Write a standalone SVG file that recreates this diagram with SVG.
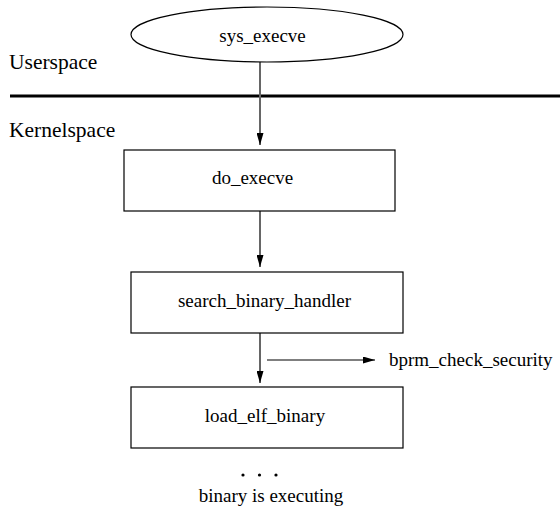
<svg xmlns="http://www.w3.org/2000/svg" width="560" height="510" viewBox="0 0 560 510">
<style>
.node{fill:#fff;stroke:#000;stroke-width:1.2}
.t{font-family:"Liberation Serif","Times New Roman",serif;font-size:19px;fill:#000;text-anchor:middle}
.lab{font-family:"Liberation Serif","Times New Roman",serif;font-size:21.5px;fill:#000}
.conn{stroke:#666;stroke-width:2;fill:none}
.thin{stroke:#000;stroke-width:1.2;fill:none}
</style>
<defs>
<marker id="ah" viewBox="0 0 12 7" refX="12" refY="3.5" markerWidth="12" markerHeight="7" markerUnits="userSpaceOnUse" orient="auto">
<path d="M0,0 L12,3.5 L0,7 Z" fill="#000"/>
</marker>
</defs>
<rect width="560" height="510" fill="#fff"/>
<text class="lab" x="9" y="69">Userspace</text>
<line x1="10" y1="96" x2="560" y2="96" stroke="#000" stroke-width="3"/>
<text class="lab" x="9" y="137">Kernelspace</text>
<g id="connectors">
<line class="conn" x1="260" y1="62" x2="260" y2="145" marker-end="url(#ah)"/>
<line class="conn" x1="260" y1="211" x2="260" y2="267" marker-end="url(#ah)"/>
<line class="conn" x1="260" y1="333" x2="260" y2="383" marker-end="url(#ah)"/>
<line class="thin" x1="267" y1="360" x2="375" y2="360" marker-end="url(#ah)"/>
</g>
<g id="sys_execve">
<ellipse class="node" cx="267" cy="34.5" rx="136" ry="27.5"/>
<text class="t" x="262.5" y="42">sys_execve</text>
</g>
<g id="do_execve">
<rect class="node" x="124" y="150" width="271" height="61"/>
<text class="t" x="252.5" y="184">do_execve</text>
</g>
<g id="search_binary_handler">
<rect class="node" x="131" y="272" width="272" height="61"/>
<text class="t" x="264.5" y="307">search_binary_handler</text>
</g>
<g id="bprm_check_security">
<text class="t" x="389" y="366" style="text-anchor:start">bprm_check_security</text>
</g>
<g id="load_elf_binary">
<rect class="node" x="131" y="387" width="272" height="61"/>
<text class="t" x="265" y="422">load_elf_binary</text>
</g>
<g id="executing">
<circle cx="243" cy="475" r="1.6" fill="#000"/>
<circle cx="259.5" cy="475" r="1.6" fill="#000"/>
<circle cx="276" cy="475" r="1.6" fill="#000"/>
<text class="t" x="271" y="502">binary is executing</text>
</g>
</svg>
